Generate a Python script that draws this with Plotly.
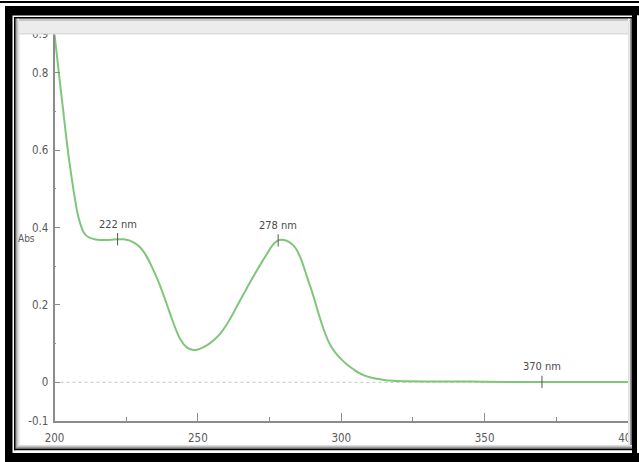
import plotly.graph_objects as go

# ---- data ----
wavelength = [200, 201, 202, 203, 204, 205, 206, 207, 208, 209, 210, 211, 212, 214, 216, 218,
              220, 222, 224, 226, 228, 230, 232, 234, 236, 238, 240, 242, 244, 246, 248, 250,
              252, 254, 256, 258, 260, 262, 264, 266, 268, 270, 272, 274, 276, 278, 280, 282,
              284, 286, 288, 290, 292, 294, 296, 298, 300, 302, 304, 306, 308, 310, 312, 315,
              318, 322, 330, 345, 360, 370, 385, 400]
absorbance = [0.900, 0.835, 0.768, 0.705, 0.640, 0.580, 0.528, 0.480, 0.438, 0.410, 0.390, 0.380,
              0.375, 0.370, 0.368, 0.368, 0.369, 0.370, 0.370, 0.367, 0.360, 0.348, 0.327, 0.298,
              0.265, 0.226, 0.184, 0.143, 0.110, 0.091, 0.084, 0.085, 0.091, 0.100, 0.112, 0.128,
              0.149, 0.174, 0.202, 0.229, 0.256, 0.282, 0.307, 0.331, 0.354, 0.367, 0.368, 0.362,
              0.348, 0.318, 0.274, 0.230, 0.180, 0.134, 0.099, 0.076, 0.060, 0.046, 0.035, 0.025,
              0.018, 0.013, 0.010, 0.006, 0.004, 0.003, 0.002, 0.002, 0.001, 0.001, 0.001, 0.001]

peak_wl = [222, 278, 370]
peak_abs = [0.370, 0.367, 0.001]
peak_labels = ["222 nm", "278 nm", "370 nm"]

x_ticks = [200, 250, 300, 350, 400]
y_ticks = [-0.1, 0, 0.2, 0.4, 0.6, 0.8, 0.9]
y_ticktext = ["-0.1", "0", "0.2", "0.4", "0.6", "0.8", "0.9"]

W, H = 639, 462
FONT = "DejaVu Sans Condensed, Liberation Sans Narrow, Arial Narrow, sans-serif"
TXT = "#5a5a5a"
AX = "#8c8c8c"

fig = go.Figure()

# baseline (dotted zero line)
fig.add_hline(y=0, line=dict(color="#c4c4c4", width=1, dash="dot"), layer="below")

fig.add_trace(go.Scatter(x=wavelength, y=absorbance, mode="lines",
                         line=dict(color="#80c67a", width=2, shape="spline", smoothing=1.0),
                         hoverinfo="skip", showlegend=False))

# peak markers: short vertical ticks
for wl, a in zip(peak_wl, peak_abs):
    fig.add_trace(go.Scatter(x=[wl, wl], y=[a - 0.016, a + 0.016], mode="lines",
                             line=dict(color="#555555", width=1), hoverinfo="skip",
                             showlegend=False))
for wl, a, lab in zip(peak_wl, peak_abs, peak_labels):
    fig.add_annotation(x=wl, y=a, text=lab, showarrow=False, yshift=15,
                       font=dict(family=FONT, size=11, color="#4a4a4a"))

x0d, x1d = 54.5 / W, 628 / W
y0d, y1d = 1 - 421 / H, 1 - 34.3 / H

fig.update_xaxes(range=[200, 400], domain=[x0d, x1d], tickvals=x_ticks, automargin=False,
                 ticks="inside", ticklen=8, tickwidth=1, tickcolor=AX,
                 minor=dict(dtick=25, tick0=200, ticks="inside", ticklen=4, tickcolor=AX, tickwidth=1),
                 showline=True, linecolor=AX, linewidth=1.5, mirror=True,
                 showgrid=False, zeroline=False, ticklabelstandoff=5,
                 tickfont=dict(family=FONT, size=11.5, color=TXT))
fig.update_yaxes(range=[-0.1, 0.9], domain=[y0d, y1d], tickvals=y_ticks, ticktext=y_ticktext,
                 automargin=False,
                 ticks="inside", ticklen=6, tickwidth=1, tickcolor=AX,
                 minor=dict(dtick=0.1, tick0=0, ticks="inside", ticklen=2, tickcolor=AX, tickwidth=1),
                 showline=True, linecolor=AX, linewidth=1.5, mirror=True,
                 showgrid=False, zeroline=False, ticklabelstandoff=2,
                 tickfont=dict(family=FONT, size=11.5, color=TXT))

# "Abs" axis label (horizontal)
fig.add_annotation(xref="paper", yref="paper", x=26 / W, y=1 - 238 / H, text="Abs",
                   xanchor="center", yanchor="middle",
                   showarrow=False, font=dict(family=FONT, size=10, color=TXT))

# ---- decorative frame (pixel coordinates) ----
shapes = []


def rect(px0, py0, px1, py1, color):
    shapes.append(dict(type="rect", xref="paper", yref="paper", layer="above",
                       x0=px0 / W, x1=px1 / W, y0=1 - py1 / H, y1=1 - py0 / H,
                       fillcolor=color, line=dict(width=0)))


# top rule of page
rect(0, 1, W, 3, "#000000")
# inner shadow gradients
for i, c in enumerate(["#6e6e6e", "#9a9a9a", "#c2c2c2", "#dcdcdc"]):
    rect(15.5 + i, 18 + i, 16.5 + i, 449 - i, c)          # left
    rect(15.5 + i, 448 - i, 632, 449 - i, c)               # bottom
    rect(631 - i, 18 + i, 632 - i, 449 - i, c)             # right
rect(19, 21, 628, 34, "#ececec")                            # top band
rect(19, 18, 628, 21, "#c8c8c8")
rect(19, 33, 628, 34.5, "#dddddd")
rect(628.5, 21, 630, 445, "#e8e8e8")
# thin black line
rect(14, 17, 15.5, 450.5, "#000000")
rect(14, 17, 633, 18.5, "#000000")
rect(14, 449, 633, 450.5, "#000000")
# white gap
rect(12.5, 15.5, 14, 453, "#ffffff")
rect(12.5, 15.5, 633, 17, "#ffffff")
rect(12.5, 450.5, 633, 453, "#ffffff")
# thick black outer frame
rect(5, 6, 12.5, 462, "#000000")
rect(5, 6, 639, 15.5, "#000000")
rect(5, 453, 639, 462, "#000000")
rect(632, 6, 637, 462, "#000000")
rect(637, 15.5, 639, 453, "#ffffff")

fig.update_layout(width=W, height=H, margin=dict(l=0, r=0, t=0, b=0, autoexpand=False),
                  paper_bgcolor="white", plot_bgcolor="white",
                  shapes=list(fig.layout.shapes) + shapes, showlegend=False)

fig.write_html("out.html")
